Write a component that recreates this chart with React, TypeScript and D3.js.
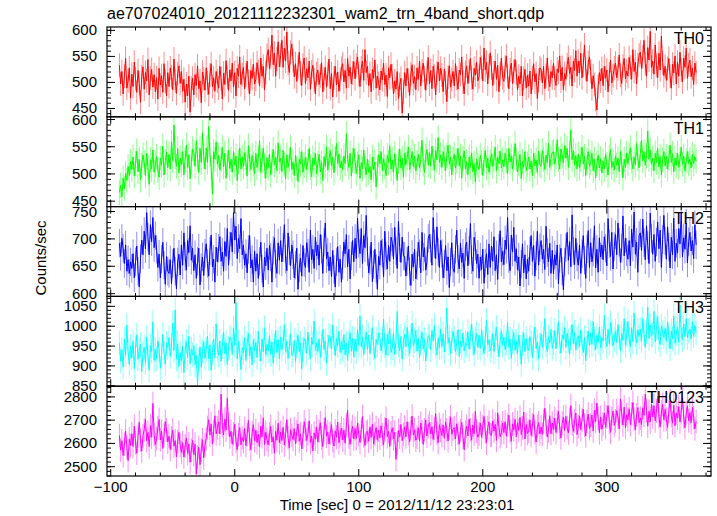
import React from 'react';
import * as d3 from 'd3';

// 1-s bins, first bin centre
const T_START = -93;
const BIN = 1;

const th0 = [
  533, 497, 521, 478, 512, 546, 489, 503, 528, 470,
  516, 492, 539, 507, 481, 523, 498, 462, 511, 530,
  487, 519, 503, 544, 476, 508, 525, 491, 515, 482,
  509, 468, 527, 495, 513, 481, 536, 502, 474, 519,
  492, 528, 511, 486, 545, 503, 479, 517, 532, 498,
  521, 483, 506, 462, 497, 474, 512, 443, 489, 508,
  476, 515, 494, 532, 488, 503, 461, 520, 507, 485,
  528, 499, 477, 514, 536, 492, 509, 483, 521, 503,
  489, 531, 507, 468, 518, 496, 542, 510, 485, 524,
  503, 537, 491, 519, 474, 527, 512, 549, 496, 515,
  529, 488, 514, 541, 502, 478, 523, 508, 535, 497,
  506, 538, 521, 493, 547, 512, 531, 486, 519, 552,
  563, 527, 548, 591, 534, 556, 512, 545, 578, 530,
  552, 581, 529, 566, 541, 597, 537, 519, 558, 574,
  542, 511, 536, 502, 529, 558, 518, 494, 533, 547,
  498, 526, 509, 541, 487, 520, 533, 505, 478, 517,
  524, 496, 513, 538, 482, 507, 529, 491, 516, 545,
  488, 517, 472, 509, 531, 495, 520, 483, 506, 527,
  536, 501, 523, 489, 546, 512, 529, 497, 518, 540,
  507, 533, 549, 516, 492, 528, 541, 504, 563, 519,
  531, 494, 517, 482, 525, 508, 543, 489, 512, 498,
  486, 522, 505, 537, 496, 514, 473, 528, 509, 535,
  512, 478, 503, 487, 521, 469, 496, 508, 441, 482,
  519, 493, 527, 504, 475, 516, 534, 498, 511, 486,
  528, 506, 541, 493, 522, 537, 509, 485, 519, 548,
  497, 523, 488, 531, 512, 476, 518, 539, 503, 527,
  514, 482, 526, 499, 463, 510, 532, 491, 506, 521,
  493, 536, 508, 487, 524, 515, 549, 501, 478, 519,
  532, 498, 521, 546, 509, 487, 527, 514, 539, 503,
  511, 548, 529, 503, 566, 524, 539, 497, 531, 557,
  528, 494, 519, 541, 506, 533, 482, 516, 547, 509,
  502, 529, 551, 513, 488, 524, 537, 498, 521, 544,
  519, 486, 512, 497, 531, 474, 508, 525, 489, 514,
  493, 522, 478, 509, 536, 501, 517, 469, 504, 528,
  525, 499, 531, 488, 513, 547, 506, 492, 521, 509,
  537, 508, 494, 526, 519, 551, 503, 529, 486, 517,
  506, 534, 548, 517, 529, 493, 541, 523, 561, 512,
  541, 518, 556, 509, 533, 572, 526, 502, 538, 549,
  521, 488, 513, 496, 467, 447, 492, 519, 503, 527,
  494, 531, 508, 524, 482, 516, 543, 499, 513, 528,
  537, 509, 526, 553, 514, 498, 531, 546, 507, 522,
  512, 548, 529, 506, 563, 521, 539, 497, 534, 552,
  558, 527, 549, 581, 536, 512, 567, 543, 598, 529,
  541, 516, 572, 533, 509, 556, 524, 589, 538, 513,
  531, 504, 527, 546, 512, 489, 535, 518, 551, 497,
  539, 512, 558, 524, 501, 547, 529, 566, 508, 534,
  543, 511, 528, 496, 537, 519,
];

const th1 = [
  466, 479, 458, 492, 473, 501, 488, 514, 497, 523,
  508, 531, 496, 519, 542, 504, 527, 489, 516, 535,
  521, 497, 538, 512, 481, 526, 509, 544, 503, 518,
  532, 507, 494, 529, 516, 551, 498, 523, 540, 511,
  536, 509, 558, 524, 590, 531, 514, 547, 502, 529,
  517, 541, 498, 526, 553, 512, 535, 491, 522, 546,
  539, 514, 561, 528, 503, 547, 521, 576, 532, 509,
  548, 521, 587, 536, 512, 463, 541, 527, 559, 518,
  534, 507, 526, 549, 513, 538, 492, 521, 544, 510,
  527, 503, 541, 516, 533, 488, 522, 548, 509, 531,
  514, 539, 521, 496, 552, 527, 508, 534, 519, 501,
  538, 512, 529, 561, 503, 524, 547, 515, 492, 530,
  511, 536, 498, 523, 545, 517, 531, 506, 557, 522,
  529, 504, 543, 518, 491, 535, 512, 526, 549, 508,
  522, 497, 534, 511, 486, 527, 518, 541, 503, 516,
  531, 508, 523, 547, 512, 495, 529, 517, 538, 501,
  519, 536, 504, 521, 488, 532, 514, 549, 507, 526,
  543, 515, 531, 502, 528, 556, 519, 537, 511, 524,
  508, 533, 519, 574, 527, 512, 538, 496, 525, 547,
  523, 501, 518, 535, 492, 521, 509, 544, 516, 498,
  527, 503, 514, 489, 531, 508, 522, 476, 511, 535,
  519, 541, 506, 528, 513, 497, 534, 521, 552, 509,
  526, 503, 537, 514, 488, 523, 546, 511, 529, 494,
  538, 517, 529, 549, 508, 524, 541, 513, 533, 506,
  521, 536, 511, 527, 562, 518, 503, 532, 545, 516,
  539, 514, 551, 528, 507, 543, 526, 567, 521, 535,
  512, 541, 529, 506, 534, 553, 518, 531, 498, 527,
  536, 511, 524, 547, 515, 533, 492, 528, 542, 509,
  523, 498, 531, 512, 539, 504, 519, 485, 527, 516,
  508, 534, 521, 497, 526, 543, 511, 529, 503, 522,
  537, 514, 528, 549, 506, 531, 519, 542, 511, 526,
  513, 538, 524, 501, 547, 522, 533, 509, 528, 556,
  527, 504, 519, 536, 491, 523, 512, 541, 506, 518,
  531, 509, 524, 497, 538, 515, 526, 503, 542, 517,
  514, 543, 527, 508, 535, 521, 556, 512, 529, 539,
  541, 518, 532, 563, 527, 509, 546, 533, 520, 552,
  529, 547, 512, 538, 581, 526, 543, 517, 534, 509,
  536, 511, 527, 549, 518, 532, 497, 524, 541, 514,
  521, 538, 506, 527, 493, 519, 534, 511, 528, 502,
  524, 509, 536, 517, 498, 531, 545, 512, 523, 507,
  533, 516, 529, 504, 541, 521, 493, 527, 512, 538,
  519, 535, 548, 524, 509, 531, 517, 556, 528, 511,
  537, 562, 524, 541, 516, 533, 579, 527, 544, 518,
  529, 506, 538, 521, 547, 513, 532, 498, 526, 541,
  515, 532, 509, 528, 553, 521, 537, 504, 529, 516,
  538, 512, 527, 549, 518, 533, 506, 524, 541, 519,
  527, 511, 536, 519, 532, 524,
];

const th2 = [
  692, 668, 701, 683, 655, 689, 641, 662, 637, 658,
  646, 673, 629, 658, 687, 641, 612, 664, 698, 671,
  714, 682, 748, 703, 671, 726, 695, 739, 684, 706,
  681, 648, 672, 629, 663, 694, 652, 617, 668, 641,
  637, 662, 618, 655, 683, 641, 609, 658, 672, 634,
  689, 652, 711, 668, 643, 697, 675, 724, 661, 683,
  642, 671, 628, 659, 683, 616, 648, 667, 633, 674,
  691, 655, 632, 678, 707, 649, 663, 621, 685, 658,
  683, 704, 659, 676, 641, 695, 668, 719, 652, 687,
  712, 676, 748, 698, 723, 664, 701, 682, 737, 671,
  689, 652, 673, 638, 681, 706, 647, 662, 621, 678,
  641, 673, 628, 659, 694, 645, 612, 667, 651, 683,
  643, 688, 667, 621, 679, 702, 654, 637, 693, 661,
  697, 658, 684, 726, 663, 642, 711, 678, 651, 689,
  671, 629, 652, 683, 608, 647, 665, 632, 688, 657,
  648, 693, 674, 639, 716, 662, 681, 646, 703, 669,
  689, 652, 708, 681, 637, 694, 729, 664, 676, 642,
  667, 631, 679, 644, 612, 658, 686, 639, 663, 621,
  652, 694, 673, 708, 649, 681, 627, 669, 697, 658,
  701, 664, 738, 692, 673, 719, 655, 706, 684, 743,
  677, 638, 661, 694, 622, 653, 681, 646, 608, 668,
  652, 697, 674, 631, 714, 669, 645, 688, 659, 703,
  694, 663, 721, 678, 646, 732, 684, 657, 703, 669,
  668, 632, 659, 687, 641, 615, 672, 649, 681, 627,
  651, 694, 673, 638, 712, 667, 684, 643, 659, 701,
  708, 683, 652, 739, 691, 664, 722, 676, 648, 697,
  673, 629, 654, 688, 642, 667, 611, 658, 693, 646,
  639, 681, 716, 663, 645, 692, 657, 674, 628, 686,
  694, 651, 679, 728, 662, 641, 703, 687, 655, 672,
  628, 667, 644, 681, 619, 656, 673, 635, 691, 648,
  687, 659, 704, 642, 671, 626, 683, 715, 658, 677,
  653, 698, 681, 739, 664, 642, 707, 676, 721, 659,
  682, 643, 667, 614, 654, 691, 638, 671, 627, 663,
  641, 678, 706, 659, 688, 632, 669, 714, 652, 684,
  697, 663, 681, 644, 723, 675, 658, 692, 637, 679,
  636, 671, 652, 689, 618, 664, 683, 641, 607, 658,
  684, 712, 661, 695, 649, 744, 678, 653, 701, 667,
  652, 689, 637, 673, 706, 661, 628, 682, 715, 648,
  693, 658, 676, 724, 647, 681, 639, 702, 667, 689,
  662, 704, 683, 651, 737, 691, 668, 712, 645, 686,
  708, 671, 729, 694, 657, 683, 742, 669, 701, 676,
  663, 697, 651, 718, 685, 749, 672, 694, 639, 706,
  711, 679, 736, 693, 662, 724, 688, 655, 747, 701,
  672, 708, 659, 694, 731, 682, 716, 648, 699, 743,
  696, 663, 722, 685, 647, 703, 671, 738, 659, 692,
  674, 719, 691, 748, 667, 702, 681, 729, 656, 695,
  712, 678, 697, 664, 726, 689,
];

const th3 = [
  958, 912, 941, 897, 967, 928, 1003, 936, 904, 949,
  921, 962, 893, 944, 978, 917, 939, 955, 886, 931,
  947, 908, 972, 925, 889, 951, 936, 1011, 914, 942,
  918, 963, 941, 894, 927, 979, 932, 905, 957, 946,
  971, 924, 952, 1008, 939, 1041, 917, 956, 898, 933,
  912, 949, 883, 937, 962, 921, 975, 906, 943, 928,
  951, 903, 926, 853, 914, 948, 897, 936, 961, 919,
  942, 975, 918, 953, 889, 934, 967, 921, 1006, 944,
  927, 963, 912, 949, 985, 931, 958, 904, 944, 972,
  968, 929, 995, 952, 1059, 917, 961, 938, 891, 946,
  933, 971, 914, 957, 982, 925, 949, 903, 966, 938,
  959, 921, 987, 943, 912, 968, 935, 996, 927, 954,
  938, 976, 929, 961, 907, 952, 989, 934, 966, 918,
  972, 941, 958, 1004, 935, 963, 919, 948, 981, 927,
  929, 964, 911, 952, 977, 936, 958, 893, 942, 969,
  961, 932, 985, 947, 918, 971, 954, 1013, 939, 958,
  936, 968, 921, 955, 992, 941, 963, 907, 949, 977,
  974, 943, 1003, 958, 926, 969, 951, 987, 934, 962,
  941, 979, 928, 957, 914, 961, 984, 937, 969, 922,
  968, 937, 991, 952, 1026, 948, 973, 929, 961, 985,
  942, 977, 931, 964, 997, 946, 919, 967, 954, 983,
  971, 938, 962, 1018, 951, 927, 979, 956, 994, 934,
  946, 983, 929, 961, 1037, 952, 938, 974, 917, 963,
  979, 948, 997, 956, 931, 972, 1008, 951, 964, 989,
  937, 969, 921, 958, 984, 943, 966, 912, 951, 976,
  974, 941, 989, 963, 1002, 952, 928, 971, 946, 993,
  948, 981, 935, 967, 1046, 957, 972, 931, 963, 987,
  969, 936, 958, 991, 924, 962, 947, 983, 938, 957,
  951, 986, 942, 973, 1005, 956, 929, 968, 982, 947,
  977, 944, 992, 958, 931, 969, 1014, 953, 966, 938,
  949, 982, 936, 971, 997, 955, 923, 964, 988, 952,
  973, 941, 958, 1009, 946, 967, 919, 961, 984, 939,
  962, 931, 978, 947, 904, 956, 983, 936, 969, 948,
  939, 974, 957, 921, 966, 998, 943, 961, 917, 952,
  981, 947, 969, 1019, 954, 936, 973, 958, 992, 944,
  958, 989, 943, 976, 1011, 961, 932, 978, 967, 996,
  947, 982, 963, 929, 971, 1004, 956, 985, 941, 968,
  976, 948, 991, 957, 934, 972, 913, 959, 987, 951,
  983, 954, 1012, 968, 941, 977, 959, 998, 946, 971,
  962, 1027, 974, 948, 993, 956, 1009, 985, 951, 967,
  987, 959, 1004, 973, 938, 981, 964, 1019, 952, 979,
  1012, 967, 949, 996, 961, 1033, 978, 958, 991, 974,
  992, 964, 1019, 981, 947, 986, 1048, 969, 1003, 977,
  979, 1037, 961, 996, 1024, 967, 954, 1001, 983, 972,
  994, 962, 1011, 976, 943, 988, 969, 1026, 957, 982,
  997, 959, 1053, 982, 966, 1006, 974, 1019, 971, 988,
  993, 968, 1011, 976, 1002, 984,
];

const th0123 = [
  2634, 2571, 2612, 2548, 2597, 2653, 2583, 2526, 2619, 2591,
  2642, 2587, 2674, 2603, 2558, 2629, 2691, 2614, 2567, 2632,
  2659, 2703, 2612, 2648, 2587, 2676, 2627, 2772, 2638, 2594,
  2621, 2668, 2703, 2615, 2652, 2579, 2637, 2694, 2658, 2606,
  2631, 2574, 2623, 2657, 2588, 2612, 2543, 2609, 2648, 2591,
  2562, 2603, 2541, 2589, 2624, 2557, 2598, 2519, 2571, 2613,
  2552, 2597, 2468, 2541, 2583, 2509, 2572, 2616, 2538, 2594,
  2621, 2668, 2702, 2637, 2684, 2598, 2653, 2719, 2641, 2667,
  2693, 2641, 2812, 2678, 2636, 2704, 2657, 2794, 2683, 2628,
  2652, 2597, 2641, 2683, 2609, 2574, 2637, 2668, 2594, 2625,
  2608, 2664, 2591, 2637, 2699, 2618, 2573, 2645, 2681, 2612,
  2657, 2603, 2639, 2586, 2674, 2629, 2710, 2596, 2648, 2617,
  2594, 2641, 2673, 2606, 2629, 2558, 2652, 2614, 2687, 2603,
  2648, 2612, 2669, 2593, 2637, 2702, 2624, 2581, 2659, 2634,
  2617, 2663, 2598, 2651, 2684, 2609, 2642, 2576, 2628, 2693,
  2659, 2613, 2641, 2697, 2604, 2632, 2568, 2645, 2618, 2671,
  2606, 2652, 2689, 2624, 2587, 2658, 2711, 2631, 2649, 2598,
  2643, 2681, 2612, 2589, 2654, 2627, 2692, 2603, 2638, 2666,
  2615, 2658, 2601, 2679, 2742, 2628, 2596, 2647, 2673, 2619,
  2664, 2621, 2687, 2638, 2604, 2659, 2715, 2632, 2591, 2648,
  2652, 2609, 2671, 2626, 2683, 2597, 2641, 2668, 2614, 2657,
  2623, 2676, 2638, 2594, 2661, 2709, 2629, 2652, 2587, 2645,
  2667, 2619, 2648, 2531, 2603, 2656, 2627, 2682, 2612, 2639,
  2671, 2628, 2693, 2642, 2607, 2664, 2718, 2636, 2659, 2614,
  2627, 2668, 2611, 2687, 2649, 2596, 2658, 2701, 2632, 2673,
  2689, 2641, 2672, 2617, 2664, 2728, 2645, 2603, 2681, 2656,
  2634, 2679, 2622, 2693, 2658, 2611, 2667, 2714, 2639, 2661,
  2668, 2619, 2684, 2643, 2597, 2656, 2691, 2628, 2573, 2649,
  2673, 2632, 2705, 2658, 2614, 2679, 2641, 2738, 2653, 2626,
  2641, 2688, 2627, 2671, 2716, 2649, 2602, 2668, 2693, 2637,
  2635, 2697, 2654, 2682, 2613, 2732, 2671, 2629, 2646, 2688,
  2647, 2693, 2631, 2678, 2721, 2652, 2609, 2684, 2658, 2703,
  2628, 2689, 2656, 2712, 2638, 2667, 2735, 2619, 2681, 2643,
  2652, 2701, 2634, 2679, 2724, 2647, 2606, 2673, 2689, 2641,
  2671, 2639, 2694, 2751, 2683, 2627, 2654, 2719, 2642, 2688,
  2661, 2708, 2647, 2692, 2738, 2669, 2623, 2687, 2714, 2656,
  2716, 2668, 2645, 2703, 2762, 2684, 2652, 2697, 2731, 2638,
  2672, 2718, 2659, 2701, 2747, 2678, 2632, 2695, 2726, 2664,
  2679, 2722, 2653, 2742, 2694, 2773, 2708, 2646, 2713, 2661,
  2684, 2731, 2669, 2714, 2762, 2691, 2648, 2708, 2739, 2677,
  2697, 2741, 2712, 2663, 2791, 2728, 2679, 2756, 2668, 2724,
  2702, 2749, 2681, 2727, 2776, 2704, 2659, 2722, 2754, 2689,
  2709, 2681, 2753, 2721, 2812, 2741, 2674, 2738, 2693, 2769,
  2714, 2762, 2697, 2739, 2803, 2716, 2671, 2735, 2768, 2702,
  2746, 2704, 2669, 2738, 2784, 2719, 2687, 2764, 2676, 2731,
  2709, 2758, 2692, 2736, 2798, 2714, 2668, 2731, 2761, 2697,
  2732, 2689, 2754, 2711, 2663, 2694,
];

const seriesNames = ['TH0', 'TH1', 'TH2', 'TH3', 'TH0123'];
const seriesValues = [th0, th1, th2, th3, th0123];
const seriesErrors = [23, 23, 26, 31, 51];
const yDomains: [number, number][] = [[434, 606.5], [440, 605], [595, 759], [849, 1075], [2460, 2846]];
const yTickLabels = [[450, 500, 550, 600], [450, 500, 550, 600], [600, 650, 700, 750], [850, 900, 950, 1000, 1050], [2500, 2600, 2700, 2800]];
const yMinorSteps = [10, 10, 10, 10, 20];
const xTickLabels = [-100, 0, 100, 200, 300];
const xDomain: [number, number] = [-103, 384];

const colors = ['#ff0000', '#00ff00', '#0000ff', '#00ffff', '#ff00ff'];

const TITLE = 'ae707024010_20121112232301_wam2_trn_4band_short.qdp';
const XLABEL = 'Time [sec] 0 = 2012/11/12 23:23:01';
const YLABEL = 'Counts/sec';

const W = 717, H = 516;
const LEFT = 107, RIGHT = 711, TOP = 27, BOTTOM = 476;
const FONT = '"Liberation Sans", Arial, Helvetica, sans-serif';

export default function App() {
  const x = d3.scaleLinear().domain(xDomain).range([LEFT, RIGHT]);
  const ph = (BOTTOM - TOP) / seriesNames.length;
  const xMinor = d3.range(-100, 384, 20);

  return (
    <svg width={W} height={H} style={{ position: 'absolute', left: 0, top: 0, background: '#fff' }}>
      <defs>
        {seriesNames.map((n, k) => (
          <clipPath id={`clip${k}`} key={n}>
            <rect x={LEFT} y={TOP + k * ph} width={RIGHT - LEFT} height={ph} />
          </clipPath>
        ))}
      </defs>
      <rect x={0} y={0} width={W} height={H} fill="#fff" />
      {seriesNames.map((name, k) => {
        const top = TOP + k * ph;
        const bot = top + ph;
        const y = d3.scaleLinear().domain(yDomains[k]).range([bot, top]);
        const vals = seriesValues[k];
        const err = seriesErrors[k];
        const pts = vals.map((v, i) => [T_START + i * BIN, v] as [number, number]);
        const line = d3.line<[number, number]>().x(d => x(d[0])).y(d => y(d[1]));
        const [lo, hi] = yDomains[k];
        const minor = d3.range(Math.ceil(lo / yMinorSteps[k]) * yMinorSteps[k], hi, yMinorSteps[k]);
        const c = colors[k];
        const barPath = pts.map(p => `M${x(p[0]).toFixed(2)},${y(p[1] - err).toFixed(2)}V${y(p[1] + err).toFixed(2)}`).join('');
        return (
          <g key={name}>
            <g clipPath={`url(#clip${k})`}>
              <path d={barPath} fill="none" stroke={c} strokeOpacity={0.45} strokeWidth={1} />
              <path d={line(pts) || ''} fill="none" stroke={c} strokeWidth={1} />
            </g>
            <g stroke="#000" strokeWidth={1}>
              {minor.map(v => (
                <g key={v}>
                  <line x1={LEFT} x2={LEFT + 4} y1={y(v)} y2={y(v)} />
                  <line x1={RIGHT} x2={RIGHT - 4} y1={y(v)} y2={y(v)} />
                </g>
              ))}
              {yTickLabels[k].map(v => (
                <g key={v}>
                  <line x1={LEFT} x2={LEFT + 8} y1={y(v)} y2={y(v)} />
                  <line x1={RIGHT} x2={RIGHT - 8} y1={y(v)} y2={y(v)} />
                </g>
              ))}
              {xMinor.map(t => {
                const major = t % 100 === 0;
                const len = major ? 7 : 3.5;
                return (
                  <g key={t}>
                    <line x1={x(t)} x2={x(t)} y1={top} y2={top + len} />
                    <line x1={x(t)} x2={x(t)} y1={bot} y2={bot - len} />
                  </g>
                );
              })}
            </g>
            <rect x={LEFT} y={top} width={RIGHT - LEFT} height={ph} fill="none" stroke="#000" strokeWidth={1.2} />
            <g fontFamily={FONT} fontSize={15} fill="#000" textAnchor="end">
              {yTickLabels[k].map(v => (
                <text key={v} x={97} y={y(v) + 5}>{v}</text>
              ))}
            </g>
            <text x={704} y={top + 17} fontFamily={FONT} fontSize={16} textAnchor="end" fill="#000">{name}</text>
          </g>
        );
      })}
      <g fontFamily={FONT} fontSize={15} fill="#000" textAnchor="middle">
        {xTickLabels.map(t => (
          <text key={t} x={x(t)} y={492}>{t < 0 ? `\u2212${-t}` : t}</text>
        ))}
      </g>
      <text x={107} y={19} fontFamily={FONT} fontSize={16} fill="#000">{TITLE}</text>
      <text x={397} y={510} fontFamily={FONT} fontSize={15} fill="#000" textAnchor="middle">{XLABEL}</text>
      <text transform={`translate(46,258) rotate(-90)`} fontFamily={FONT} fontSize={15} fill="#000" textAnchor="middle">{YLABEL}</text>
    </svg>
  );
}
